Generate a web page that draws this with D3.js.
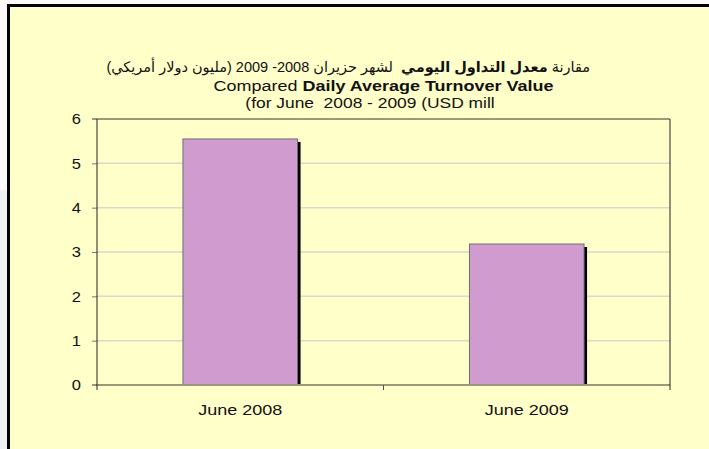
<!DOCTYPE html>
<html>
<head>
<meta charset="utf-8">
<script src="https://cdn.jsdelivr.net/npm/d3@7"></script>
<style>
  body { margin: 0; background: #ffffff; }
  svg text { font-family: "Liberation Sans", Arial, "DejaVu Sans", sans-serif; fill: #111; white-space: pre; }
</style>
</head>
<body>
<div id="chart"></div>
<script>

// Chart data
const categories = ["June 2008", "June 2009"];
const turnover   = [5.55, 3.18];
const yTicks     = [0, 1, 2, 3, 4, 5, 6];

const titleArabicPre  = "مقارنة ";
const titleArabicBold = "معدل التداول اليومي";
const titleArabicPost = "  لشهر حزيران 2008- 2009 (مليون دولار أمريكي)";
const titleEnPre      = "Compared ";
const titleEnBold     = "Daily Average Turnover Value";
const titleEnLine3    = "(for June  2008 - 2009 (USD mill";

const width = 709, height = 449;
const plot = {left: 97, right: 670, top: 119, bottom: 385};
// the original picture is a bit stretched sideways
const stretch = 1.2;

const svg = d3.select("#chart")
    .append("svg")
        .attr("width", width)
        .attr("height", height);

// Page background + faded strip on the left
svg.append("rect")
    .attr("x", 0).attr("y", 0)
    .attr("width", width).attr("height", height)
    .attr("fill", "#fcf8f8");
svg.append("rect")
    .attr("x", 0).attr("y", 190)
    .attr("width", 7).attr("height", 259)
    .attr("fill", "#eef0f3");

// Yellow panel with black frame on top and left
svg.append("rect")
    .attr("x", 8).attr("y", 5)
    .attr("width", width - 8).attr("height", height - 5)
    .attr("fill", "#ffffc9");
svg.append("line")
    .attr("x1", 8).attr("x2", width)
    .attr("y1", 5.5).attr("y2", 5.5)
    .attr("stroke", "#000").attr("stroke-width", 3);
svg.append("line")
    .attr("x1", 8.5).attr("x2", 8.5)
    .attr("y1", 4).attr("y2", height)
    .attr("stroke", "#000").attr("stroke-width", 3);

// Scales
const x = d3.scaleBand()
    .domain(categories)
    .range([plot.left, plot.right])
    .paddingInner(0.6)
    .paddingOuter(0.3);

const y = d3.scaleLinear()
    .domain([0, 6])
    .range([plot.bottom, plot.top]);

// Gridlines
svg.append("g")
    .selectAll("line")
    .data(yTicks.filter(d => d > 0 && d < 6))
    .join("line")
        .attr("x1", plot.left).attr("x2", plot.right)
        .attr("y1", d => y(d)).attr("y2", d => y(d))
        .attr("stroke", "#d9d9cc").attr("stroke-width", 1.5);

// Y axis
const yAxis = d3.axisLeft(y)
    .tickValues(yTicks)
    .tickFormat(d3.format("d"))
    .tickSize(5);

const yAxisG = svg.append("g")
    .attr("transform", "translate(" + plot.left + ",0)")
    .call(yAxis);
yAxisG.select(".domain").remove();
yAxisG.selectAll(".tick line").attr("stroke", "#777");
yAxisG.selectAll(".tick text")
    .attr("x", null)
    .attr("text-anchor", "end")
    .attr("transform", "translate(-16,0) scale(1.1,1)")
    .attr("font-size", 15)
    .style("font-family", "Liberation Sans, Arial, sans-serif")
    .attr("fill", "#111");

// Top frame line at 6
svg.append("line")
    .attr("x1", plot.left - 5).attr("x2", plot.right)
    .attr("y1", y(6)).attr("y2", y(6))
    .attr("stroke", "#9a9a78").attr("stroke-width", 2);

// Bars with a black shadow on the right
const bars = svg.append("g");
bars.selectAll("rect.shadow")
    .data(turnover)
    .join("rect")
        .attr("class", "shadow")
        .attr("x", (d, i) => x(categories[i]) + x.bandwidth() - 1)
        .attr("y", d => y(d) + 3)
        .attr("width", 4)
        .attr("height", d => y(0) - y(d) - 3)
        .attr("fill", "#000");
bars.selectAll("rect.bar")
    .data(turnover)
    .join("rect")
        .attr("class", "bar")
        .attr("x", (d, i) => x(categories[i]))
        .attr("y", d => y(d))
        .attr("width", x.bandwidth())
        .attr("height", d => y(0) - y(d))
        .attr("fill", "#d09cd0")
        .attr("stroke", "#6f6f6f")
        .attr("stroke-width", 1);

// Category axis (baseline)
svg.append("line")
    .attr("x1", plot.left - 5).attr("x2", plot.right)
    .attr("y1", y(0)).attr("y2", y(0))
    .attr("stroke", "#9a9a78").attr("stroke-width", 2);

// Left axis, right border and the tick between categories
const boundaries = [plot.left, x(categories[1]) - x.step() * x.paddingInner() / 2, plot.right];
svg.append("g")
    .selectAll("line")
    .data(boundaries)
    .join("line")
        .attr("x1", d => d).attr("x2", d => d)
        .attr("y1", (d, i) => i === 1 ? y(0) : plot.top)
        .attr("y2", y(0) + 5)
        .attr("stroke", (d, i) => i === 1 ? "#555" : "#222")
        .attr("stroke-width", 1);

// Category labels
svg.append("g")
    .selectAll("text")
    .data(categories)
    .join("text")
        .attr("transform", d => "translate(" + (x(d) + x.bandwidth() / 2) + ",415) scale(" + stretch + ",1)")
        .attr("text-anchor", "middle")
        .attr("font-size", 15)
        .text(d => d);

// Titles
const t1 = svg.append("text")
    .attr("x", 590).attr("y", 72)
    .attr("direction", "rtl")
    .attr("text-anchor", "start")
    .attr("font-size", 14.5);
t1.append("tspan").text(titleArabicPre);
t1.append("tspan").attr("font-weight", "bold").text(titleArabicBold);
t1.append("tspan").text(titleArabicPost);

const t2 = svg.append("text")
    .attr("transform", "translate(383.5,91) scale(1.24,1)")
    .attr("text-anchor", "middle")
    .attr("font-size", 14.5);
t2.append("tspan").text(titleEnPre);
t2.append("tspan").attr("font-weight", "bold").text(titleEnBold);

svg.append("text")
    .attr("transform", "translate(370,108) scale(" + stretch + ",1)")
    .attr("text-anchor", "middle")
    .attr("font-size", 14.5)
    .text(titleEnLine3);

</script>
</body>
</html>
